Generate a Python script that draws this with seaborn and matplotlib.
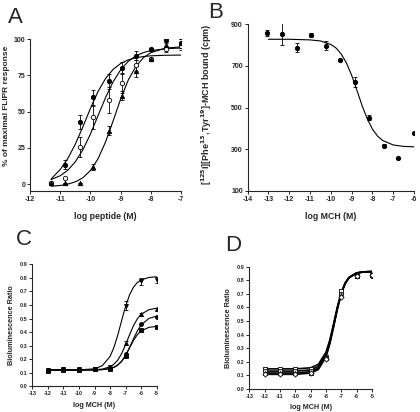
import numpy as np
import pandas as pd
import seaborn as sns
import matplotlib.pyplot as plt

# ---- Panel A: FLIPR response vs log peptide ----
a_x = [-11.3, -10.85, -10.35, -9.9, -9.4, -8.95, -8.5, -8.0, -7.5, -7.0]
a_fill = [0.7, 13.3, 42.8, 59.8, 70.8, 79.8, 88.5, 92.9, 99.3, 97.0]
a_fill_err = [1, 3, 5, 5, 5, 4, 3, 1, 2, 3]
a_open = [0.7, 4.1, 25.5, 46.0, 57.7, 69.9, 81.8, 86.2, 93.1, 95.2]
a_open_err = [0, 0, 7, 8, 9, 7, 4, 1, 2, 3]
a_tri = [0.7, 0.5, 0.7, 12.0, 36.8, 61.0, 78.0, 86.0, 96.0, 97.0]
a_tri_err = [0, 0, 0, 2, 3, 3, 4, 1, 2, 3]

a_cx = [-11.3, -11.0, -10.75, -10.5, -10.25, -10.0, -9.75, -9.5, -9.25, -9.0,
        -8.75, -8.5, -8.25, -8.0, -7.5, -7.0]
a_curve_fill = [3.5, 10.0, 17.5, 27.5, 39.4, 52.1, 63.7, 72.7, 79.0, 83.1,
                85.6, 87.0, 87.9, 88.4, 88.8, 88.9]
a_curve_open = [3.1, 5.7, 9.5, 15.3, 23.6, 34.4, 47.0, 59.5, 70.4, 78.7,
                84.5, 88.3, 90.6, 92.0, 93.3, 93.8]
a_curve_tri = [-1.5, -1.0, -0.1, 1.5, 4.3, 9.3, 17.3, 28.9, 43.4, 58.5,
               71.5, 80.9, 87.0, 90.6, 93.7, 94.6]

# ---- Panel B: competition binding ----
b_x = [-13.05, -12.35, -11.65, -10.95, -10.25, -9.55, -8.85, -8.15, -7.45, -6.75, -6.0]
b_y = [857, 855, 788, 847, 797, 729, 623, 450, 317, 256, 376]
b_err = [15, 55, 20, 10, 22, 0, 25, 12, 8, 0, 0]
b_cx = [-13.0, -12.0, -11.0, -10.5, -10.0, -9.75, -9.5, -9.25, -9.0, -8.75,
        -8.5, -8.25, -8.0, -7.75, -7.5, -7.0, -6.5, -6.0]
b_cy = [828, 828, 825, 820, 803, 786, 757, 714, 655, 584,
        510, 446, 396, 362, 341, 320, 313, 311]

# ---- Panel C: bioluminescence ----
c_x = [-12, -11, -10, -9, -8, -7, -6, -5]
c_s1 = [0.12, 0.13, 0.125, 0.13, 0.14, 0.595, 0.775, 0.785]
c_s1_err = [0, 0, 0, 0, 0.005, 0.035, 0.025, 0.02]
c_s2 = [0.12, 0.13, 0.125, 0.13, 0.135, 0.32, 0.53, 0.57]
c_s2_err = [0, 0, 0, 0, 0, 0.015, 0.01, 0.005]
c_s3 = [0.12, 0.125, 0.12, 0.125, 0.135, 0.24, 0.46, 0.51]
c_s4 = [0.115, 0.12, 0.12, 0.125, 0.13, 0.225, 0.415, 0.435]
c_cx = [-12, -11, -10, -9, -8.5, -8, -7.75, -7.5, -7.25, -7, -6.75, -6.5, -6.25, -6, -5.5, -5]
c_c1 = [0.12, 0.12, 0.121, 0.129, 0.152, 0.22, 0.287, 0.379, 0.487, 0.59,
        0.673, 0.73, 0.765, 0.785, 0.803, 0.808]
c_c2 = [0.12, 0.12, 0.12, 0.122, 0.127, 0.144, 0.163, 0.194, 0.243, 0.307,
        0.379, 0.446, 0.497, 0.532, 0.565, 0.576]
c_c3 = [0.12, 0.12, 0.12, 0.121, 0.123, 0.131, 0.141, 0.158, 0.185, 0.228,
        0.285, 0.348, 0.407, 0.452, 0.501, 0.518]
c_c4 = [0.12, 0.12, 0.12, 0.121, 0.123, 0.13, 0.139, 0.156, 0.185, 0.228,
        0.2825, 0.337, 0.38, 0.409, 0.435, 0.442]

# ---- Panel D: bioluminescence ----
d_x = [-12, -11, -10, -9, -8, -7, -6, -5]
d_s1 = [0.15, 0.15, 0.15, 0.145, 0.235, 0.72, 0.835, 0.84]
d_s2 = [0.13, 0.135, 0.135, 0.13, 0.23, 0.70, 0.83, 0.835]
d_s3 = [0.12, 0.12, 0.12, 0.12, 0.225, 0.69, 0.83, 0.84]
d_s4 = [0.11, 0.11, 0.11, 0.115, 0.22, 0.68, 0.83, 0.84]
d_cx = [-12, -11, -10, -9, -8.5, -8, -7.75, -7.5, -7.25, -7, -6.75, -6.5, -6, -5.5, -5]
d_c1 = [0.148, 0.148, 0.148, 0.156, 0.181, 0.27, 0.361, 0.481, 0.607, 0.711, 0.78, 0.821, 0.854, 0.862, 0.864]
d_c2 = [0.132, 0.132, 0.132, 0.14, 0.166, 0.257, 0.35, 0.472, 0.601, 0.707, 0.778, 0.82, 0.854, 0.862, 0.864]
d_c3 = [0.118, 0.118, 0.118, 0.127, 0.153, 0.245, 0.34, 0.465, 0.596, 0.704, 0.777, 0.819, 0.854, 0.862, 0.864]
d_c4 = [0.108, 0.108, 0.108, 0.117, 0.143, 0.237, 0.333, 0.459, 0.592, 0.702, 0.776, 0.819, 0.854, 0.862, 0.864]

sns.set_style('ticks')
plt.rcParams['font.family'] = ['Liberation Sans', 'DejaVu Sans']
plt.rcParams['axes.unicode_minus'] = False
plt.rcParams['axes.linewidth'] = 0.8
plt.rcParams['xtick.major.width'] = 0.7
plt.rcParams['ytick.major.width'] = 0.7
plt.rcParams['xtick.major.size'] = 2
plt.rcParams['ytick.major.size'] = 2
plt.rcParams['xtick.major.pad'] = 1.5
plt.rcParams['ytick.major.pad'] = 1.5

fig = plt.figure(figsize=(4.2, 4.12), dpi=100)
W, H = 420, 412


def make_ax(x0, x1, y_top, y_bot):
    return fig.add_axes([x0 / W, 1 - y_bot / H, (x1 - x0) / W, (y_bot - y_top) / H])


def curve(ax, x, y, lw=0.8):
    sns.lineplot(x=x, y=y, ax=ax, color='black', lw=lw, estimator=None, sort=False)


def points(ax, x, y, marker, filled=True, s=10, err=None):
    if err is not None:
        ax.errorbar(x, y, yerr=err, fmt='none', ecolor='black', elinewidth=0.6,
                    capsize=1.5, capthick=0.6, zorder=3)
    sns.scatterplot(x=x, y=y, ax=ax, marker=marker, s=s,
                    color='black' if filled else 'white',
                    edgecolor='black', linewidth=0.6, zorder=4)


def style(ax, fs):
    sns.despine(ax=ax)
    ax.tick_params(labelsize=fs)
    for lab in ax.get_xticklabels() + ax.get_yticklabels():
        lab.set_fontweight('bold')


# Panel A
axA = make_ax(30, 181, 39, 190.7)
curve(axA, a_cx, a_curve_fill)
curve(axA, a_cx, a_curve_open)
curve(axA, a_cx, a_curve_tri)
points(axA, a_x, a_fill, 'o', True, err=a_fill_err)
points(axA, a_x, a_open, 'o', False, err=a_open_err)
points(axA, a_x, a_tri, '^', True, err=a_tri_err)
axA.set_xlim(-12, -7)
axA.set_ylim(-4.6, 100)
axA.set_xticks([-12, -11, -10, -9, -8, -7])
axA.set_yticks([0, 25, 50, 75, 100])
axA.set_xlabel('log peptide (M)', fontsize=6.3, fontweight='bold', labelpad=7)
axA.set_ylabel('% of maximal FLIPR response', fontsize=6, fontweight='bold')
axA.yaxis.set_label_coords(-0.135, 0.56)
style(axA, 5)

# Panel B
axB = make_ax(247.7, 414, 24.3, 190.7)
curve(axB, b_cx, b_cy)
points(axB, b_x, b_y, 'o', True, err=b_err)
axB.set_xlim(-14, -6)
axB.set_ylim(100, 900)
axB.set_xticks(list(range(-14, -5)))
axB.set_yticks([100, 300, 500, 700, 900])
axB.set_xlabel('log MCH (M)', fontsize=6.3, fontweight='bold', labelpad=7)
axB.set_ylabel(r'[$^{\mathbf{125}}$I][Phe$^{\mathbf{13}}$,Tyr$^{\mathbf{19}}$]-MCH bound (cpm)',
               fontsize=6.5, fontweight='bold')
axB.yaxis.set_label_coords(-0.2, 0.52)
style(axB, 5)

# Panel C
axC = make_ax(32.3, 156.7, 264.3, 386.3)
for cy in (c_c1, c_c2, c_c3, c_c4):
    curve(axC, c_cx, cy)
points(axC, c_x, c_s1, 'v', True, s=8, err=c_s1_err)
points(axC, c_x, c_s2, '^', True, s=8, err=c_s2_err)
points(axC, c_x, c_s3, 'o', True, s=8)
points(axC, c_x, c_s4, 's', True, s=8)
axC.set_xlim(-13, -5)
axC.set_ylim(0, 0.9)
axC.set_xticks(list(range(-13, -4)))
axC.set_yticks(np.arange(0, 0.91, 0.1))
axC.set_yticklabels(['0.0', '0.1', '0.2', '0.3', '0.4', '0.5', '0.6', '0.7', '0.8', '0.9'])
axC.set_xlabel('log MCH (M)', fontsize=5.2, fontweight='bold', labelpad=4)
axC.set_ylabel('Bioluminescence Ratio', fontsize=5.2, fontweight='bold', labelpad=3)
style(axC, 4)

# Panel D
axD = make_ax(249.3, 372, 266.7, 389)
for cy in (d_c1, d_c2, d_c3, d_c4):
    curve(axD, d_cx, cy, lw=1.2)
points(axD, d_x, d_s1, 's', False, s=9)
points(axD, d_x, d_s2, 'o', False, s=9)
points(axD, d_x, d_s3, '^', False, s=9)
points(axD, d_x, d_s4, 'D', False, s=7)
axD.set_xlim(-13, -5)
axD.set_ylim(0, 0.9)
axD.set_xticks(list(range(-13, -4)))
axD.set_yticks(np.arange(0, 0.91, 0.1))
axD.set_yticklabels(['0.0', '0.1', '0.2', '0.3', '0.4', '0.5', '0.6', '0.7', '0.8', '0.9'])
axD.set_xlabel('log MCH (M)', fontsize=5.2, fontweight='bold', labelpad=4)
axD.set_ylabel('Bioluminescence Ratio', fontsize=5.2, fontweight='bold', labelpad=3)
style(axD, 4)

for lbl, px, py in (('A', 8, 23), ('B', 208, 18), ('C', 16, 245), ('D', 225, 251)):
    fig.text(px / W, 1 - py / H, lbl, fontsize=16, ha='left', va='baseline')

fig.savefig('out.png', dpi=100)
